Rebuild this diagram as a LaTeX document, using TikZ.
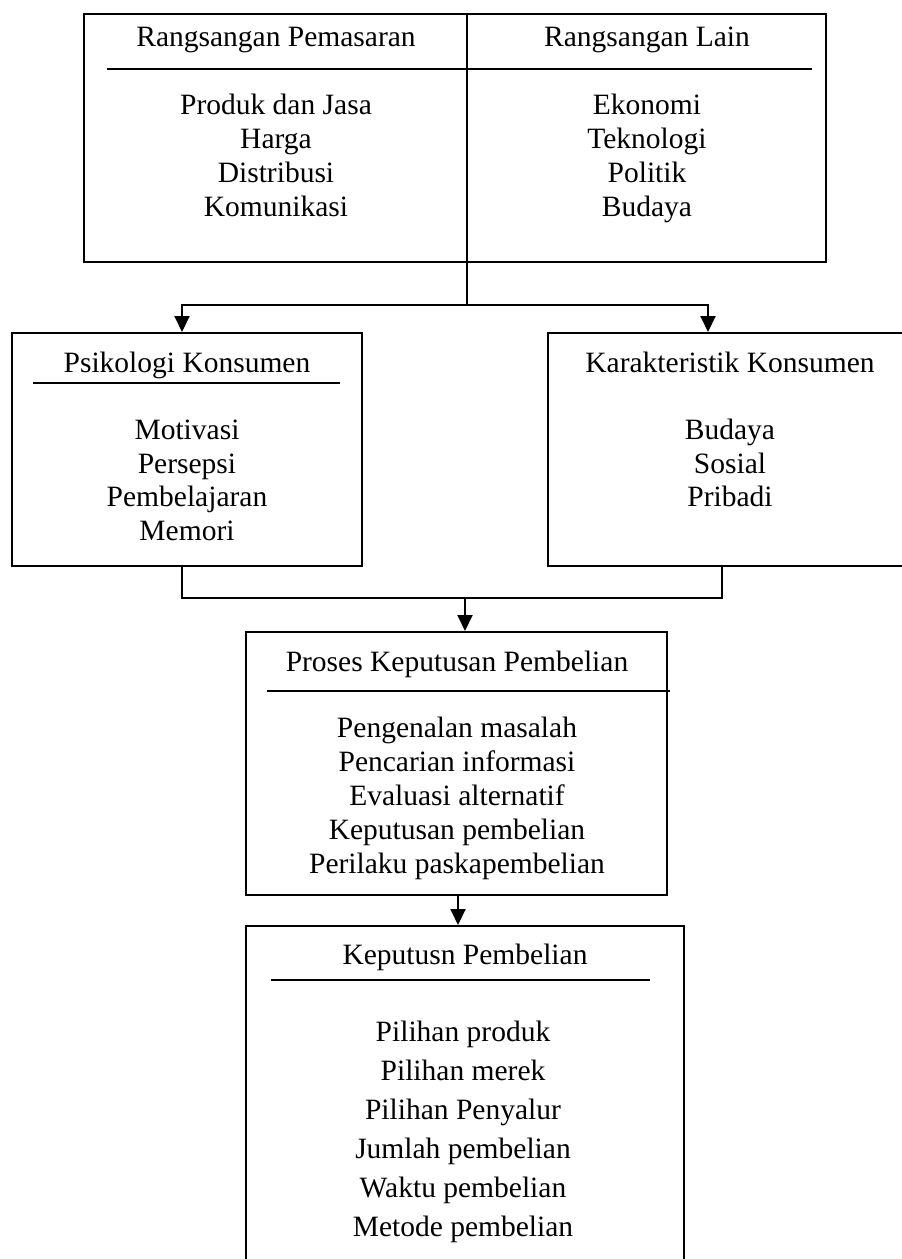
\documentclass[tikz,border=0pt]{standalone}
\usepackage{fontspec}
\setmainfont{Liberation Serif}
\usetikzlibrary{arrows.meta}

\begin{document}
\begin{tikzpicture}[x=0.4pt, y=-0.4pt, line width=0.8pt, >={Triangle[length=6.4pt,width=6pt]},
  box/.style={draw, line width=0.8pt, inner sep=0pt},
  txt/.style={font=\fontsize{11.8pt}{13.6pt}\selectfont, inner sep=0pt, text height=7.9pt, text depth=0.7pt}]

  \useasboundingbox (0,0) rectangle (901,1259);

  % 1. Top box with the two kinds of stimuli
  \node[box, minimum width=296.8pt, minimum height=99.2pt] (stim) at (455,138) {};
  \node[txt] (stimL) at (276,38) {Rangsangan Pemasaran};
  \node[txt] (stimR) at (647,38) {Rangsangan Lain};
  \draw (107,69) -- (812,69);
  \foreach \y/\t [count=\i] in {105/Produk dan Jasa, 139/Harga, 173/Distribusi, 207/Komunikasi} {
    \node[txt] (pm-\i) at (276,\y) {\t};
  }
  \foreach \y/\t [count=\i] in {105/Ekonomi, 139/Teknologi, 173/Politik, 207/Budaya} {
    \node[txt] (ln-\i) at (647,\y) {\t};
  }

  % 2. Consumer psychology and consumer characteristics
  \node[box, minimum width=140pt, minimum height=93.2pt] (psi) at (187,449.5) {};
  \node[txt] (psiT) at (187,363) {Psikologi Konsumen};
  \draw (33,383) -- (340,383);
  \foreach \y/\t [count=\i] in {430/Motivasi, 464/Persepsi, 497/Pembelajaran, 531/Memori} {
    \node[txt] (ps-\i) at (187,\y) {\t};
  }
  \node[box, minimum width=145.6pt, minimum height=93.2pt] (kar) at (730,449.5) {};
  \node[txt] (karT) at (730,363) {Karakteristik Konsumen};
  \foreach \y/\t [count=\i] in {430/Budaya, 464/Sosial, 497/Pribadi} {
    \node[txt] (kr-\i) at (730,\y) {\t};
  }

  % 3. Purchase decision process
  \node[box, minimum width=168.4pt, minimum height=105.2pt] (proses) at (456.5,763.5) {};
  \node[txt] (prosesT) at (457,662) {Proses Keputusan Pembelian};
  \draw (267,691) -- (670,691);
  \foreach \y/\t [count=\i] in {728/Pengenalan masalah, 762/Pencarian informasi, 796/Evaluasi alternatif,
                                830/Keputusan pembelian, 864/Perilaku paskapembelian} {
    \node[txt] (pr-\i) at (457,\y) {\t};
  }

  % 4. Purchase decision (box runs off the bottom edge)
  \node[box, minimum width=175.2pt, minimum height=137.6pt] (kep) at (465,1098) {};
  \node[txt] (kepT) at (465,955) {Keputusn Pembelian};
  \draw (271,980) -- (650,980);
  \foreach \y/\t [count=\i] in {1032/Pilihan produk, 1071/Pilihan merek, 1110/Pilihan Penyalur,
                                1149/Jumlah pembelian, 1188/Waktu pembelian, 1227/Metode pembelian} {
    \node[txt] (kp-\i) at (463,\y) {\t};
  }

  % 5. Connectors
  \coordinate (fork) at (467,305);
  \coordinate (brL) at (182,305);
  \coordinate (brR) at (708,305);
  \draw (stim.north -| fork) -- (fork);
  \draw[<->] (brL |- psi.north) -- (brL) -- (brR) -- (brR |- kar.north);

  \coordinate (jL) at (182,598);
  \coordinate (jR) at (722,598);
  \coordinate (jM) at (465,598);
  \draw (psi.south -| jL) -- (jL) -- (jR) -- (jR |- kar.south);
  \draw[->] (jM) -- (jM |- proses.north);

  \coordinate (pk) at (458,910);
  \draw[->] (proses.south -| pk) -- (pk |- kep.north);

\end{tikzpicture}
\end{document}
